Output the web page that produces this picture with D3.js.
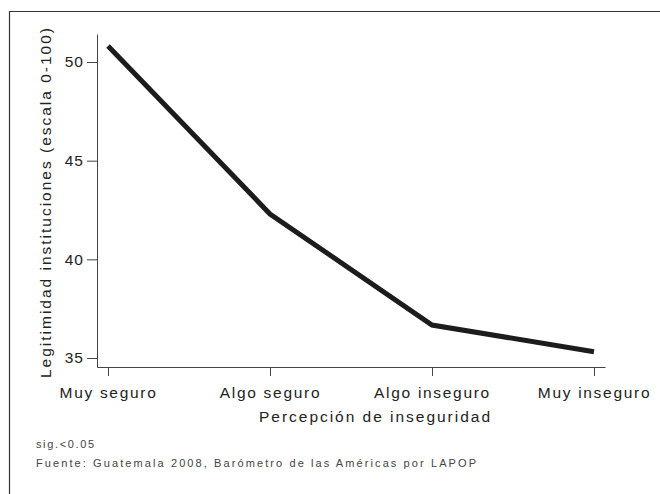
<!DOCTYPE html>
<html>
<head>
<meta charset="utf-8">
<script src="https://cdn.jsdelivr.net/npm/d3@7"></script>
<style>
  body { margin: 0; background: #fff; }
  svg text { font-family: "Liberation Sans", Arial, sans-serif; }
</style>
</head>
<body>
<div class="chart_wrapper"></div>
<script>

// categories on the x axis
const categories = ["Muy seguro", "Algo seguro", "Algo inseguro", "Muy inseguro"]

// mean legitimacy per category
const legitimidad = [50.81, 42.30, 36.67, 35.32]

const yTicks = [35, 40, 45, 50]

const xTitle = "Percepción de inseguridad"
const yTitle = "Legitimidad instituciones (escala 0-100)"
const notes = ["sig.<0.05", "Fuente: Guatemala 2008, Barómetro de las Américas por LAPOP"]

function drawChart() {

  const width = 660, height = 494

  const svg = d3.select(".chart_wrapper")
    .append("svg")
      .attr("width", width)
      .attr("height", height)

  // outer frame (only top and left show in the picture)
  svg.append("path")
    .attr("d", "M9.5,494V11.5H660")
    .attr("fill", "none")
    .attr("stroke", "#333")
    .attr("stroke-width", 1.2)

  const plot = { left: 97, right: 605, top: 34, bottom: 367 }

  const xScale = d3.scalePoint()
    .domain(categories)
    .range([plot.left, plot.right])
    .padding(0.068)

  const yScale = d3.scaleLinear()
    .domain([34.544, 51.42])
    .range([plot.bottom, plot.top])

  // x axis
  const xAxis = d3.axisBottom(xScale)
    .tickSizeInner(9)
    .tickSizeOuter(0)
    .tickPadding(11)

  const gx = svg.append("g")
    .attr("transform", `translate(0,${plot.bottom})`)
    .call(xAxis)
  gx.select(".domain").attr("stroke", "#444")
  gx.selectAll(".tick line").attr("stroke", "#444")
  gx.selectAll(".tick text")
    .attr("fill", "#222")
    .style("font-size", "15.5px")
    .style("letter-spacing", "1.7px")

  // y axis
  const yAxis = d3.axisLeft(yScale)
    .tickValues(yTicks)
    .tickSizeInner(10)
    .tickSizeOuter(0)
    .tickPadding(3)

  const gy = svg.append("g")
    .attr("transform", `translate(${plot.left},0)`)
    .call(yAxis)
  gy.select(".domain").attr("stroke", "#444")
  gy.selectAll(".tick line").attr("stroke", "#444")
  gy.selectAll(".tick text")
    .attr("fill", "#222")
    .style("font-size", "15.5px")
    .style("letter-spacing", "1px")

  svg.selectAll("text").attr("font-family", null)

  // line
  const line = d3.line()
    .x((d, i) => xScale(categories[i]))
    .y(d => yScale(d))

  svg.append("path")
    .datum(legitimidad)
    .attr("d", line)
    .attr("fill", "none")
    .attr("stroke", "#1c1c1c")
    .attr("stroke-width", 5)
    .attr("stroke-linejoin", "miter")

  // axis titles
  svg.append("text")
    .attr("x", 374.5)
    .attr("y", 422)
    .attr("text-anchor", "middle")
    .attr("fill", "#222")
    .style("font-size", "15.5px")
    .attr("textLength", 231)
    .attr("lengthAdjust", "spacing")
    .text(xTitle)

  svg.append("text")
    .attr("transform", "translate(51,203) rotate(-90)")
    .attr("text-anchor", "middle")
    .attr("fill", "#222")
    .style("font-size", "15.5px")
    .attr("textLength", 350)
    .attr("lengthAdjust", "spacing")
    .text(yTitle)

  // notes
  const noteWidths = [58, 440]
  svg.selectAll(".note")
    .data(notes)
    .join("text")
      .attr("class", "note")
      .attr("x", 36)
      .attr("y", (d, i) => 448 + i * 19)
      .attr("fill", "#444")
      .style("font-size", "11px")
      .attr("textLength", (d, i) => noteWidths[i])
      .attr("lengthAdjust", "spacing")
      .text(d => d)
}

drawChart()
</script>
</body>
</html>
